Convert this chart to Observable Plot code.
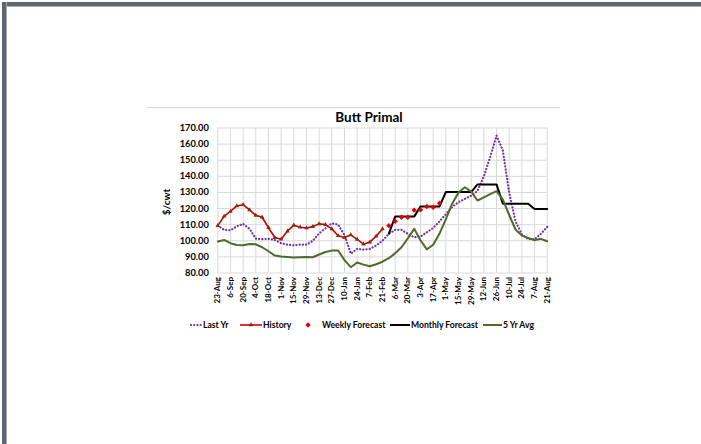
<!DOCTYPE html>
<html>
<head>
<meta charset="utf-8">
<script src="https://cdn.jsdelivr.net/npm/d3@7"></script>
<script src="https://cdn.jsdelivr.net/npm/@observablehq/plot@0.6"></script>
<style>
  html, body { margin: 0; padding: 0; background: #fff; }
  #page { position: relative; width: 701px; height: 444px; overflow: hidden; font-family: Lato, "Open Sans", sans-serif; color: #000; }
  .frame-top { position: absolute; left: 2px; top: 2px; width: 699px; height: 4px; background: #5b6770; border-bottom: 1px solid #a7afb5; }
  .frame-left { position: absolute; left: 2px; top: 2px; width: 4px; height: 442px; background: #5b6770; border-right: 1px solid #a7afb5; }
  .chart-top { position: absolute; left: 147px; top: 107px; width: 413px; height: 1px; background: #d6d6d6; }
  #title { position: absolute; left: 269px; top: 109.5px; width: 200px; text-align: center; font-weight: 700; font-size: 13.5px; line-height: 14px; }
  #ylabel { position: absolute; left: 166px; top: 202px; transform: translate(-50%, -50%) rotate(-90deg); font-weight: 700; font-size: 10px; white-space: nowrap; }
  #chart { position: absolute; left: 0; top: 0; }
  #legend { position: absolute; left: 0; top: 318px; width: 701px; height: 14px; }
  .item { position: absolute; top: 0; height: 14px; display: flex; align-items: center; font-weight: 700; font-size: 8.6px; white-space: nowrap; }
  .item svg { display: block; }
</style>
</head>
<body>
<div id="page">
  <div class="frame-top"></div>
  <div class="frame-left"></div>
  <div class="chart-top"></div>
  <div id="title">Butt Primal</div>
  <div id="ylabel">$/cwt</div>
  <div id="chart"></div>
  <div id="legend"></div>
</div>
<script>
// Biweekly tick labels, 23-Aug through 21-Aug (53 weekly points)
const weekLabels = ["23-Aug", "6-Sep", "20-Sep", "4-Oct", "18-Oct", "1-Nov", "15-Nov", "29-Nov", "13-Dec",
  "27-Dec", "10-Jan", "24-Jan", "7-Feb", "21-Feb", "6-Mar", "20-Mar", "3-Apr", "17-Apr", "1-May",
  "15-May", "29-May", "12-Jun", "26-Jun", "10-Jul", "24-Jul", "7-Aug", "21-Aug"];

// Weekly prices, $/cwt
const lastYr = [109.4, 106.8, 106.5, 109, 110.5, 107.4, 101.4, 101, 101.2, 100.5,
  98.5, 97.6, 97.2, 97.6, 97.6, 100, 104.6, 107.8, 110.9, 110,
  103.5, 92, 95, 94.5, 95, 97, 100.1, 104.3, 106.8, 106.8,
  104.3, 102.2, 102.6, 105.3, 108, 112, 116.5, 121, 124, 126,
  128, 131, 140, 152, 165.3, 156, 130, 112, 104, 101,
  101, 104.3, 108.6];

const history = [109.4, 115.2, 118.2, 121.6, 122.4, 119.2, 115.8, 114.6, 108.1, 102,
  101, 106, 109.7, 108.4, 107.9, 108.8, 110.5, 110, 107.4, 103.1,
  102, 103.7, 100.9, 97.9, 99.2, 102.9, 107.3];

// Forecasts start the week after the last history point
const forecastStart = 27;
const weeklyForecast = [109.4, 112.1, 114.6, 114.6, 119, 119.2, 121.3, 120.8, 123.3];
const monthlyForecast = [104.5, 115, 115, 115, 115, 121.3, 121.3, 121.3, 121.3,
  130.2, 130.2, 130.2, 130.2, 130.2, 135, 135, 135, 135,
  123, 123, 123, 123, 123, 119.7, 119.7, 119.7];

const fiveYrAvg = [99.5, 100.5, 98.5, 97.4, 97.2, 98, 97.8, 96, 93.5, 90.8,
  90.2, 90, 89.6, 89.8, 90, 89.8, 91.5, 93, 93.9, 94,
  88, 83.6, 86.5, 85.2, 84.2, 85.4, 87, 89.2, 92.2, 96,
  101.5, 107.4, 100.3, 94.7, 97.5, 104.5, 113.5, 123, 130, 133.2,
  130.5, 125, 127, 129, 130.8, 125.5, 116, 107, 103.2, 101.8,
  100.3, 101.2, 99.7];

const yTicks = [80, 90, 100, 110, 120, 130, 140, 150, 160, 170];

const colors = {
  lastYr: "#7030a0",
  history: "#d00000",
  historyMarker: "#7a3410",
  weekly: "#e00000",
  monthly: "#000000",
  avg: "#4f6b2c"
};

const xTicks = weekLabels.map((_, i) => i * 2);
const font = "Lato, 'Open Sans', sans-serif";

const chart = Plot.plot({
  width: 701,
  height: 444,
  marginLeft: 217.3,
  marginRight: 154.3,
  marginTop: 127.5,
  marginBottom: 171.5,
  style: { fontFamily: font, background: "transparent", color: "#000", overflow: "visible" },
  x: { domain: [0, 52] },
  y: { domain: [80, 170] },
  marks: [
    Plot.gridY(yTicks, { stroke: "#d9d9d9", strokeOpacity: 1, strokeWidth: 1 }),
    Plot.gridX(xTicks, { stroke: "#d9d9d9", strokeOpacity: 1, strokeWidth: 1 }),
    Plot.axisY(yTicks, {
      tickSize: 0, tickPadding: 9, label: null,
      tickFormat: d => d.toFixed(2),
      fontSize: 9.3, fontWeight: "bold", fill: "#000"
    }),
    Plot.axisX(xTicks, {
      tickSize: 0, tickPadding: 4, label: null, tickRotate: -90,
      tickFormat: i => weekLabels[i / 2],
      fontSize: 8, fontWeight: "bold", fill: "#000"
    }),
    Plot.line(lastYr, {
      x: (d, i) => i, y: d => d,
      stroke: colors.lastYr, strokeWidth: 2.2, strokeDasharray: "0.1 3.1", strokeLinecap: "round"
    }),
    Plot.line(history, { x: (d, i) => i, y: d => d, stroke: colors.history, strokeWidth: 1.6 }),
    Plot.dot(history, {
      x: (d, i) => i, y: d => d, symbol: "triangle", r: 1.7,
      fill: colors.historyMarker, stroke: "none"
    }),
    Plot.line(monthlyForecast, {
      x: (d, i) => i + forecastStart, y: d => d, stroke: colors.monthly, strokeWidth: 2
    }),
    Plot.dot(weeklyForecast, {
      x: (d, i) => i + forecastStart, y: d => d, symbol: "diamond2", r: 2.4, fill: colors.weekly, stroke: "none"
    }),
    Plot.line(fiveYrAvg, { x: (d, i) => i, y: d => d, stroke: colors.avg, strokeWidth: 2 })
  ]
});
document.getElementById("chart").appendChild(chart);

// Legend row
const legendItems = [
  { name: "Last Yr", left: 190, kind: "dots", color: colors.lastYr, w: 12 },
  { name: "History", left: 240, kind: "lineTri", color: colors.history, w: 22 },
  { name: "Weekly Forecast", left: 304, kind: "diamond", color: colors.weekly, w: 9 },
  { name: "Monthly Forecast", left: 390, kind: "line", color: colors.monthly, w: 20 },
  { name: "5 Yr Avg", left: 483, kind: "line", color: colors.avg, w: 19 }
];
const legend = d3.select("#legend");
for (const item of legendItems) {
  const div = legend.append("div").attr("class", "item").style("left", item.left + "px");
  const svg = div.append("svg").attr("width", item.w).attr("height", 10);
  if (item.kind === "dots") {
    svg.append("line").attr("x1", 1).attr("x2", item.w).attr("y1", 5).attr("y2", 5)
      .attr("stroke", item.color).attr("stroke-width", 2.2).attr("stroke-dasharray", "0.1 3.1").attr("stroke-linecap", "round");
  } else if (item.kind === "diamond") {
    svg.append("path").attr("d", d3.symbol(d3.symbolDiamond2, 18)()).attr("transform", `translate(4,5)`).attr("fill", item.color);
  } else {
    svg.append("line").attr("x1", 0).attr("x2", item.w).attr("y1", 5).attr("y2", 5)
      .attr("stroke", item.color).attr("stroke-width", item.kind === "lineTri" ? 1.6 : 2);
    if (item.kind === "lineTri") {
      svg.append("path").attr("d", d3.symbol(d3.symbolTriangle, 9)()).attr("transform", `translate(${item.w / 2},5)`)
        .attr("fill", colors.historyMarker);
    }
  }
  div.append("span").style("margin-left", item.kind === "diamond" ? "9px" : "1px").text(item.name);
}
</script>
</body>
</html>
